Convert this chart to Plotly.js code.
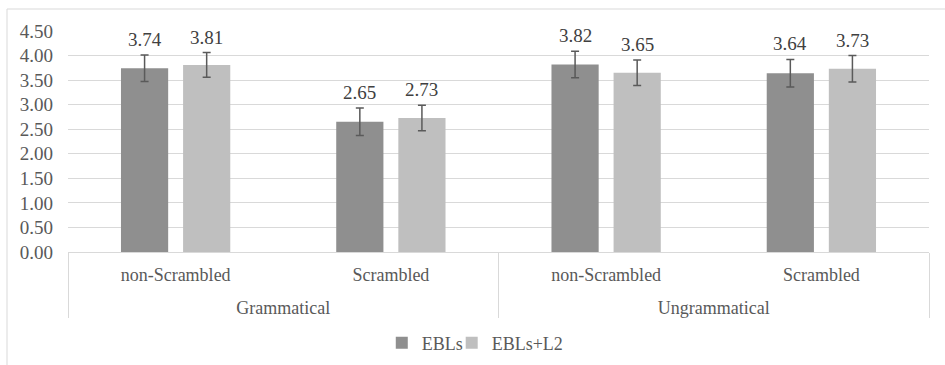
<!DOCTYPE html>
<html>
<head>
<meta charset="utf-8">
<script src="https://cdn.plot.ly/plotly-3.0.1.min.js"></script>
<style>html,body{margin:0;padding:0;background:#fff;}#chart{width:945px;height:365px;}</style>
</head>
<body>
<div id="chart"></div>
<script>
const groups = ["Grammatical", "Grammatical", "Ungrammatical", "Ungrammatical"];
const conditions = ["non-Scrambled", "Scrambled", "non-Scrambled", "Scrambled"];
const seriesNames = ["EBLs", "EBLs+L2"];
const eblsValues = [3.74, 2.65, 3.82, 3.64];
const eblsL2Values = [3.81, 2.73, 3.65, 3.73];
const eblsErrors = [0.27, 0.28, 0.27, 0.28];
const eblsL2Errors = [0.25, 0.26, 0.26, 0.27];
const yTicks = [0, 0.5, 1, 1.5, 2, 2.5, 3, 3.5, 4, 4.5];

const font = "Liberation Serif";
const textColor = "#595959";
const colors = ["#8f8f8f", "#bfbfbf"];

function barTrace(name, vals, errs, color, legendId) {
  return {
    type: "bar",
    name: name,
    legend: legendId,
    x: [groups, conditions],
    y: vals,
    marker: {color: color},
    error_y: {type: "data", array: errs, visible: true, color: "#5a5a5a", thickness: 1.5, width: 4},
    hoverinfo: "none"
  };
}

const data = [
  barTrace(seriesNames[0], eblsValues, eblsErrors, colors[0], "legend"),
  barTrace(seriesNames[1], eblsL2Values, eblsL2Errors, colors[1], "legend2")
];

// value labels placed above the error bars
const annotations = [];
[[eblsValues, eblsErrors, -31], [eblsL2Values, eblsL2Errors, 31]].forEach(([vals, errs, dx]) => {
  vals.forEach((v, i) => {
    annotations.push({
      xref: "x", yref: "y",
      x: i, y: v + errs[i],
      xshift: dx, yshift: 3,
      yanchor: "bottom", xanchor: "center",
      text: v.toFixed(2),
      showarrow: false,
      font: {family: font, size: 19, color: "#404040"}
    });
  });
});

function legendAt(xFrac) {
  return {
    orientation: "h",
    xref: "container", yref: "container",
    x: xFrac, xanchor: "left",
    y: 0.06, yanchor: "middle",
    font: {family: font, size: 18, color: textColor},
    itemwidth: 30,
    bgcolor: "rgba(0,0,0,0)"
  };
}

const layout = {
  width: 945,
  height: 365,
  margin: {l: 68, r: 16, t: 31, b: 113},
  paper_bgcolor: "#ffffff",
  plot_bgcolor: "#ffffff",
  barmode: "group",
  bargap: 0.423,
  bargroupgap: 0.24,
  font: {family: font, size: 16, color: textColor},
  showlegend: true,
  legend: legendAt(0.404),
  legend2: legendAt(0.478),
  xaxis: {
    type: "multicategory",
    automargin: false,
    showline: true,
    linecolor: "#d9d9d9",
    linewidth: 1,
    showgrid: false,
    ticks: "outside",
    tickson: "labels",
    ticklen: 17,
    tickcolor: "rgba(0,0,0,0)",
    ticklabelstandoff: -11,
    showdividers: true,
    dividercolor: "#d9d9d9",
    dividerwidth: 1,
    tickfont: {family: font, size: 18, color: textColor}
  },
  yaxis: {
    automargin: false,
    range: [0, 4.5],
    tickvals: yTicks,
    ticktext: yTicks.map(v => v.toFixed(2)),
    showgrid: true,
    gridcolor: "#d9d9d9",
    gridwidth: 1,
    zeroline: false,
    showline: false,
    ticks: "",
    ticklabelstandoff: 14,
    tickfont: {family: font, size: 19, color: textColor}
  },
  annotations: annotations,
  shapes: [{
    type: "rect", xref: "paper", yref: "paper",
    x0: (7 - 68) / 861, x1: (960 - 68) / 861,
    y0: (252 - 380) / 221, y1: (252 - 9) / 221,
    line: {color: "#d9d9d9", width: 1},
    fillcolor: "rgba(0,0,0,0)",
    layer: "below"
  }]
};

Plotly.newPlot("chart", data, layout, {staticPlot: true, displayModeBar: false});
</script>
</body>
</html>
